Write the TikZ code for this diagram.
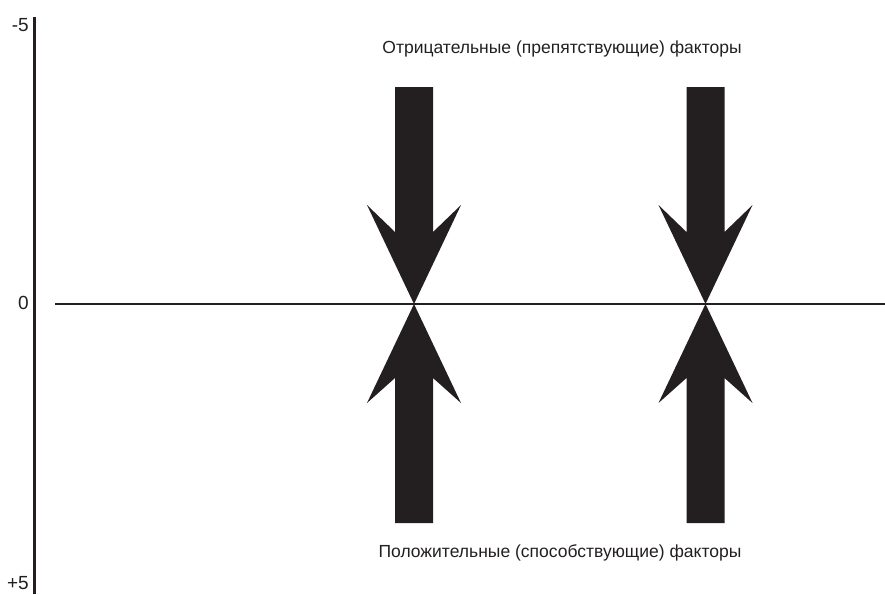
\documentclass[tikz,border=0pt]{standalone}
\usepackage{fontspec}
\setmainfont{Liberation Sans}
\usetikzlibrary{positioning}
\definecolor{ink}{RGB}{35,31,32}

\begin{document}
\begin{tikzpicture}[
  x=1pt, y=-1pt,
  axis/.style={line width=3pt, draw=ink},
  zero/.style={line width=2.5pt, draw=ink},
  tick/.style={font=\fontsize{19}{20}\selectfont, text=ink, anchor=east, inner sep=0pt},
  caption/.style={font=\fontsize{17.5}{19}\selectfont, text=ink, anchor=base, inner sep=0pt},
  force/.style={fill=ink, draw=none}
]
\useasboundingbox (0,0) rectangle (885,594);

% scale
\coordinate (top) at (34,17);
\coordinate (bot) at (34,594);
\draw[axis] (top) -- (bot);
\node[tick] (m5) at (29,25)  {-5};
\node[tick] (z0) at (29,303) {0};
\node[tick] (p5) at (29,583) {+5};

% balance line
\coordinate (left) at (55,304);
\coordinate (right) at (885,304);
\draw[zero] (left) -- (right);

% opposing forces
\foreach \cx in {414,705.5}{
  \fill[force] (\cx-19,87) -- (\cx+19,87) -- (\cx+19,232) -- (\cx+47,205)
    -- (\cx,304) -- (\cx-47,205) -- (\cx-19,232) -- cycle;
  \fill[force] (\cx-19,523) -- (\cx+19,523) -- (\cx+19,378) -- (\cx+47,403)
    -- (\cx,304) -- (\cx-47,403) -- (\cx-19,378) -- cycle;
}

\node[caption] (neg) at (562,54)  {Отрицательные (препятствующие) факторы};
\node[caption] (pos) at (560,557) {Положительные (способствующие) факторы};
\end{tikzpicture}
\end{document}
